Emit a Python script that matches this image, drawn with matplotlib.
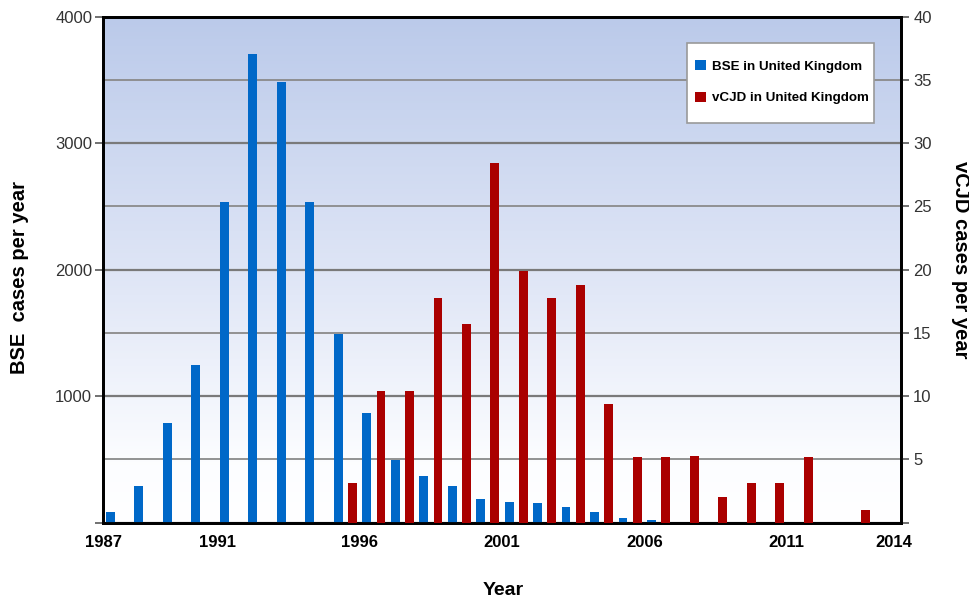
import numpy as np
import matplotlib
matplotlib.use("Agg")
import matplotlib.pyplot as plt
from matplotlib.patches import Rectangle, Patch
from matplotlib.colors import LinearSegmentedColormap

plt.rcParams['font.family'] = ['Liberation Sans', 'DejaVu Sans']

# ---- data ----
bse_years = [1987, 1988, 1989, 1990, 1991, 1992, 1993, 1994, 1995, 1996,
             1997, 1998, 1999, 2000, 2001, 2002, 2003, 2004, 2005, 2006]
bse_cases = [82, 292, 788, 1247, 2535, 3703, 3486, 2535, 1494, 870,
             496, 369, 292, 187, 161, 158, 124, 85, 37, 21]

vcjd_years = [1995, 1996, 1997, 1998, 1999, 2000, 2001, 2002, 2003, 2004,
              2005, 2006, 2007, 2008, 2009, 2010, 2011, 2012, 2013]
vcjd_cases = [3.1, 10.4, 10.4, 17.8, 15.7, 28.4, 19.9, 17.8, 18.8, 9.4,
              5.2, 5.2, 5.3, 2.0, 3.1, 3.1, 5.2, 0, 1.0]

x_tick_pos = [1987, 1991, 1996, 2001, 2006, 2011, 2014.75]
x_tick_labels = ['1987', '1991', '1996', '2001', '2006', '2011', '2014']
left_ticks = [0, 1000, 2000, 3000, 4000]
left_tick_labels = ['', '1000', '2000', '3000', '4000']
right_ticks = [0, 5, 10, 15, 20, 25, 30, 35, 40]
right_tick_labels = ['', '5', '10', '15', '20', '25', '30', '35', '40']

BLUE = '#0068C8'
RED = '#AA0000'

fig = plt.figure(figsize=(9.69, 6.01), dpi=100)
ax = fig.add_axes([0.1066, 0.1303, 0.8229, 0.8419])

# gradient background
grad = np.linspace(0, 1, 256).reshape(-1, 1)
cmap = LinearSegmentedColormap.from_list(
    'bg', [(0.0, '#FFFFFF'), (0.12, '#FCFDFF'), (0.45, '#E2E8F7'), (1.0, '#BBCAEA')])
ax.imshow(grad, extent=(0, 1, 0, 1), transform=ax.transAxes, aspect='auto',
          origin='lower', cmap=cmap, zorder=0, interpolation='bicubic')

ax.set_xlim(1987, 2015)
ax.set_ylim(0, 4000)

# grid lines
ax.set_yticks(left_ticks, left_tick_labels)
ax.set_yticks(np.arange(500, 4000, 1000), minor=True)
ax.grid(True, axis='y', which='major', color='#7A7A7A', linewidth=1.6, zorder=1)
ax.grid(True, axis='y', which='minor', color='#8A8A8A', linewidth=1.3, zorder=1)
ax.set_axisbelow(True)

bx = np.array(bse_years) + 0.25
ax.bar(bx, bse_cases, width=0.31, color=BLUE, zorder=3, linewidth=0)

ax2 = ax.twinx()
ax2.set_ylim(0, 40)
rx = np.array(vcjd_years) + 0.75
ax2.bar(rx, vcjd_cases, width=0.31, color=RED, zorder=3, linewidth=0)

ax.set_xticks(x_tick_pos, x_tick_labels)
ax.tick_params(axis='x', length=0, pad=9, labelsize=12)
for lbl in ax.get_xticklabels():
    lbl.set_fontweight('bold')
ax.tick_params(axis='y', which='major', length=6, width=1.3, color='#666666',
               pad=2, labelsize=12, labelcolor='#333333')
ax.tick_params(axis='y', which='minor', length=0)

ax2.set_yticks(right_ticks, right_tick_labels)
ax2.tick_params(axis='y', length=5.5, width=1.3, color='#666666', pad=3.5,
                labelsize=12, labelcolor='#333333')

for a in (ax, ax2):
    for s in a.spines.values():
        s.set_linewidth(2)
        s.set_color('black')

ax.set_ylabel('BSE  cases per year', fontsize=14.5, fontweight='bold', va='center')
ax.yaxis.set_label_coords(-0.1045, 0.484)
ax2.set_ylabel('vCJD cases per year', fontsize=14.5, fontweight='bold',
               rotation=-90, va='center')
ax2.yaxis.set_label_coords(1.0744, 0.519)
ax.set_xlabel('Year', fontsize=14, fontweight='bold', va='center')
ax.xaxis.set_label_coords(0.502, -0.135)

# legend
ax2.add_patch(Rectangle((0.7324, 0.7893), 0.2345, 0.1593, transform=ax2.transAxes,
                        facecolor='white', edgecolor='#999999', linewidth=1.2, zorder=5))
handles = [Patch(facecolor=BLUE, edgecolor='none'), Patch(facecolor=RED, edgecolor='none')]
leg = ax2.legend(handles, ['BSE in United Kingdom', 'vCJD in United Kingdom'],
                 loc='upper left', bbox_to_anchor=(0.7335, 0.928), frameon=False,
                 borderpad=0, handlelength=0.83, handleheight=0.83, handletextpad=0.42,
                 labelspacing=1.42, prop={'size': 9.6, 'weight': 'bold'})
leg.set_zorder(6)

fig.savefig('out.png', dpi=100)
